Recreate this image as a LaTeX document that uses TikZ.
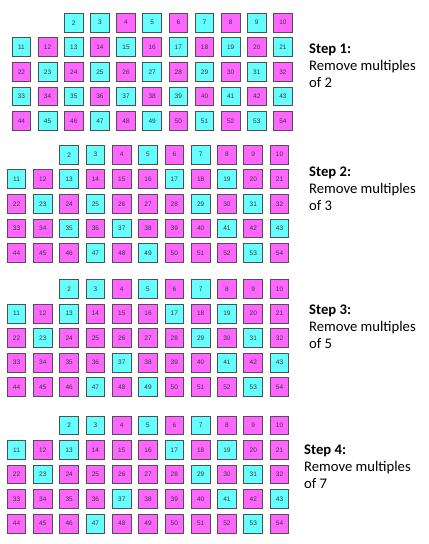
\documentclass[tikz,border=0pt]{standalone}
\usepackage{fontspec}
\setmainfont{Carlito}
\newfontfamily\numfont{Liberation Sans}
\definecolor{cyanfill}{RGB}{102,255,255}
\definecolor{magfill}{RGB}{255,102,255}
\definecolor{boxline}{RGB}{80,80,80}
\tikzset{
  cell/.style={draw=boxline, line width=0.9bp, minimum width=18.7bp, minimum height=18.7bp,
    inner sep=0pt, font=\numfont\fontsize{6.5bp}{7bp}\selectfont, text=black!80},
  keepcell/.style={cell, fill=cyanfill},
  removedcell/.style={cell, fill=magfill},
  steptext/.style={anchor=north west, inner sep=0pt, align=left,
    font=\fontsize{14.67bp}{17bp}\selectfont}
}
\begin{document}
\begin{tikzpicture}[x=1bp,y=-1bp]
\useasboundingbox[fill=white] (0,0) rectangle (428,544);
\foreach \g/\gy/\gx/\gp in {1/13/11.7/26.15, 2/145/6.8/26.3, 3/279.3/6.8/26.3, 4/415.7/6.8/26.3}{
  \foreach \n in {2,...,54}{
    \pgfmathtruncatemacro\cc{mod(\n,11)}
    \pgfmathtruncatemacro\rr{floor(\n/11)}
    \pgfmathtruncatemacro\mm{((mod(\n,2)==0) && (\n!=2)) || ((\g>=2) && (mod(\n,3)==0) && (\n!=3)) || ((\g>=3) && (mod(\n,5)==0) && (\n!=5)) || ((\g>=4) && (mod(\n,7)==0) && (\n!=7))}
    \ifnum\mm=1 \def\st{removedcell}\else\def\st{keepcell}\fi
    \node[\st] (g\g n\n) at ({\gx+9.75+\cc*\gp}, {\gy+9.75+\rr*24.55}) {\n};
  }
}
\node[steptext] (s1) at (309,43.3) {\textbf{Step 1:}\\Remove multiples\\of 2};
\node[steptext] (s2) at (309,166.3) {\textbf{Step 2:}\\Remove multiples\\of 3};
\node[steptext] (s3) at (309,304.3) {\textbf{Step 3:}\\Remove multiples\\of 5};
\node[steptext] (s4) at (304,444.3) {\textbf{Step 4:}\\Remove multiples\\of 7};
\end{tikzpicture}
\end{document}
